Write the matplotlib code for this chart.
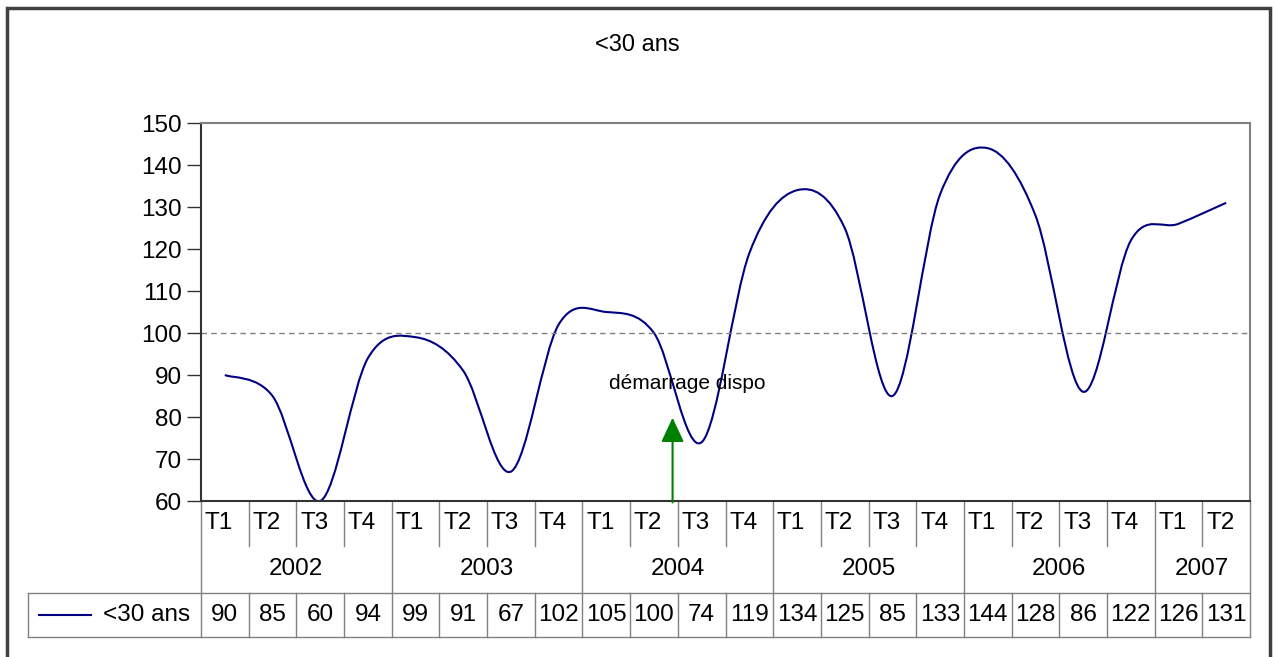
import matplotlib
matplotlib.use("Agg")
import matplotlib.pyplot as plt
from matplotlib.path import Path
from matplotlib.patches import PathPatch, Rectangle
import numpy as np

plt.rcParams["font.family"] = ["Liberation Sans", "DejaVu Sans"]

quarters = ["T1", "T2", "T3", "T4"] * 5 + ["T1", "T2"]
years = ["2002", "2003", "2004", "2005", "2006", "2007"]
year_sizes = [4, 4, 4, 4, 4, 2]
values = [90, 85, 60, 94, 99, 91, 67, 102, 105, 100, 74, 119,
          134, 125, 85, 133, 144, 128, 86, 122, 126, 131]
series_name = "<30 ans"
title = "<30 ans"
ref_level = 100
annot_text = "démarrage dispo"

W, H = 1274, 657
fig = plt.figure(figsize=(W / 100, H / 100), dpi=100)


def px(x0, y0, x1, y1):
    return [x0 / W, 1 - y1 / H, (x1 - x0) / W, (y1 - y0) / H]


ax = fig.add_axes(px(201, 123, 1250, 501))
n = len(values)
ax.set_xlim(-0.5, n - 0.5)
ax.set_ylim(60, 150)
ax.set_yticks(range(60, 151, 10))
ax.tick_params(axis="y", labelsize=17.5, length=10, width=1, color="#333333", pad=4)
ax.set_xticks([])
for s in ("top", "right"):
    ax.spines[s].set_color("#808080")
    ax.spines[s].set_linewidth(1.5)
for s in ("left", "bottom"):
    ax.spines[s].set_color("#333333")
    ax.spines[s].set_linewidth(1.5)

# smoothed line (bezier through the points, like the spreadsheet smoothing)
x = np.arange(n, dtype=float)
y = np.array(values, dtype=float)
verts = [(x[0], y[0])]
codes = [Path.MOVETO]
for i in range(n - 1):
    p0 = (x[max(i - 1, 0)], y[max(i - 1, 0)])
    p1 = (x[i], y[i])
    p2 = (x[i + 1], y[i + 1])
    p3 = (x[min(i + 2, n - 1)], y[min(i + 2, n - 1)])
    c1 = (p1[0] + (p2[0] - p0[0]) / 6, p1[1] + (p2[1] - p0[1]) / 6)
    c2 = (p2[0] - (p3[0] - p1[0]) / 6, p2[1] - (p3[1] - p1[1]) / 6)
    verts += [c1, c2, p2]
    codes += [Path.CURVE4] * 3
ax.add_patch(PathPatch(Path(verts, codes), facecolor="none",
                       edgecolor="#000080", linewidth=1.5))

ax.axhline(ref_level, color="#808080", linestyle=(0, (4, 3)), linewidth=1)

# annotation
ax.annotate("", xy=(9.39, 80.5), xytext=(9.39, 59.0),
            arrowprops=dict(arrowstyle="-|>,head_length=1.5,head_width=0.7",
                            color="#008000", lw=1.5),
            annotation_clip=False)
ax.text(9.7, 88.0, annot_text, ha="center", va="center", fontsize=15)

# data table below the plot
tr = ax.get_xaxis_transform()
gray = "#808080"
y_q = -0.119
y_y = -0.243
y_d = -0.360
x_leg = -4.13
year_bounds = set(np.cumsum([0] + year_sizes))
for k in range(n + 1):
    xb = k - 0.5
    if k in year_bounds:
        ax.plot([xb, xb], [0, y_d], color=gray, lw=1, transform=tr, clip_on=False)
    else:
        ax.plot([xb, xb], [0, y_q], color=gray, lw=1, transform=tr, clip_on=False)
        ax.plot([xb, xb], [y_y, y_d], color=gray, lw=1, transform=tr, clip_on=False)
ax.plot([x_leg, n - 0.5], [y_y, y_y], color=gray, lw=1, transform=tr, clip_on=False)
ax.plot([x_leg, n - 0.5], [y_d, y_d], color=gray, lw=1, transform=tr, clip_on=False)
ax.plot([x_leg, x_leg], [y_y, y_d], color=gray, lw=1, transform=tr, clip_on=False)

fs = 17.5
for i, q in enumerate(quarters):
    ax.text(i - 0.42, y_q / 2, q, ha="left", va="center", fontsize=fs,
            transform=tr, clip_on=False)
    ax.text(i, (y_y + y_d) / 2, str(values[i]), ha="center", va="center",
            fontsize=fs, transform=tr, clip_on=False)
start = 0
for yr, sz in zip(years, year_sizes):
    ax.text(start + sz / 2 - 0.5, (y_q + y_y) / 2, yr, ha="center", va="center",
            fontsize=fs, transform=tr, clip_on=False)
    start += sz

ym = (y_y + y_d) / 2
ax.plot([-3.9, -2.8], [ym, ym], color="#000080", lw=1.5, transform=tr, clip_on=False)
ax.text(-0.72, ym, series_name, ha="right", va="center", fontsize=fs,
        transform=tr, clip_on=False)

fig.text(637 / W, 1 - 45 / H, title, ha="center", va="center", fontsize=17)

# outer chart frame
fig.patches.append(Rectangle((7 / W, -0.05), 1263 / W, 1 - 8 / H + 0.05,
                             transform=fig.transFigure, fill=False,
                             edgecolor="#404040", lw=2.5))

fig.savefig("out.png", dpi=100)
